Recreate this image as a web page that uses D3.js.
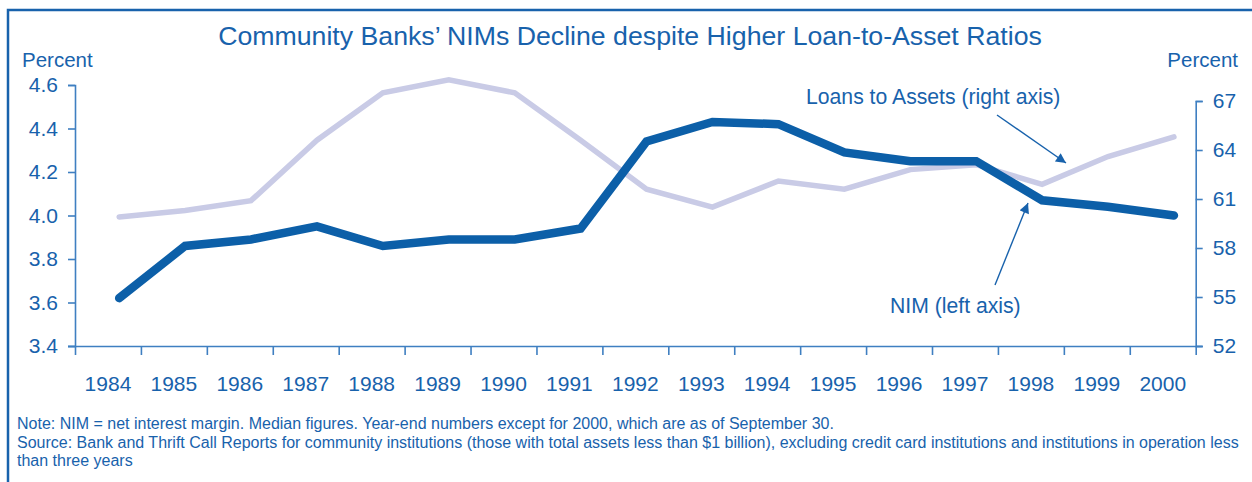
<!DOCTYPE html>
<html>
<head>
<meta charset="utf-8">
<script src="https://cdn.jsdelivr.net/npm/d3@7"></script>
<style>
  body { margin: 0; background: #fff; }
  svg text { font-family: "Liberation Sans", Arial, Helvetica, sans-serif; fill: #1862ac; }
</style>
</head>
<body>
<svg width="1252" height="482"></svg>
<script>
// data
const years = [1984, 1985, 1986, 1987, 1988, 1989, 1990, 1991, 1992, 1993, 1994, 1995, 1996, 1997, 1998, 1999, 2000];
const nim = [3.62, 3.86, 3.89, 3.95, 3.86, 3.89, 3.89, 3.94, 4.34, 4.43, 4.42, 4.29, 4.25, 4.25, 4.07, 4.04, 4.00];
const loans = [59.9, 60.3, 60.9, 64.6, 67.5, 68.3, 67.5, 64.6, 61.6, 60.5, 62.1, 61.6, 62.8, 63.1, 61.9, 63.6, 64.8];
const leftTicks = [3.4, 3.6, 3.8, 4.0, 4.2, 4.4, 4.6];
const rightTicks = [52, 55, 58, 61, 64, 67];

const blue = "#1862ac";
const axisBlue = "#3f7fc1";

const svg = d3.select("svg");

// frame
svg.append("path")
    .attr("d", "M8,490V10H1260")
    .attr("fill", "none")
    .attr("stroke", blue)
    .attr("stroke-width", 2.5);

const x0 = 75, x1 = 1195.7, yBottom = 346;

const x = d3.scaleLinear().domain([1984, 2001]).range([x0, x1]);
const yL = d3.scaleLinear().domain([3.4, 4.6]).range([yBottom, 85]);
const yR = d3.scaleLinear().domain([52, 67]).range([yBottom, 101]);

// title
svg.append("text")
    .attr("x", 630).attr("y", 45)
    .attr("text-anchor", "middle")
    .attr("font-size", 26.7)
    .text("Community Banks\u2019 NIMs Decline despite Higher Loan-to-Asset Ratios");

svg.append("text").attr("x", 22).attr("y", 67).attr("font-size", 20.5).text("Percent");
svg.append("text").attr("x", 1238).attr("y", 67).attr("font-size", 20.5)
    .attr("text-anchor", "end").text("Percent");

// left axis
const gL = svg.append("g").attr("transform", `translate(${x0},0)`)
    .call(d3.axisLeft(yL).tickValues(leftTicks).tickFormat(d3.format(".1f")).tickSize(7).tickPadding(10));
// right axis
const gR = svg.append("g").attr("transform", `translate(${x1},0)`)
    .call(d3.axisRight(yR).tickValues(rightTicks).tickSize(7).tickPadding(10));
// x axis
const gX = svg.append("g").attr("transform", `translate(0,${yBottom})`)
    .call(d3.axisBottom(x).tickValues(d3.range(1984, 2002)).tickFormat("").tickSize(9).tickSizeOuter(0));
gX.select(".domain").attr("d", `M${x0 - 7},0.5H${x1 + 7}`);

[gL, gR, gX].forEach(g => {
  g.selectAll(".domain, line").attr("stroke", axisBlue).attr("stroke-width", 1.6);
  g.selectAll("text").attr("font-size", 21).attr("font-family", null).attr("fill", blue);
});

// year labels centred in each band
svg.append("g").selectAll("text")
  .data(years)
  .join("text")
    .attr("x", d => x(d + 0.5))
    .attr("y", 391)
    .attr("text-anchor", "middle")
    .attr("font-size", 21)
    .text(d => d);

// lines (points sit two thirds into each year's band)
const pos = d => x(d + 0.67);

svg.append("path")
    .datum(years.map((yr, i) => [yr, loans[i]]))
    .attr("fill", "none")
    .attr("stroke", "#c9cbe6")
    .attr("stroke-width", 5.5)
    .attr("stroke-linecap", "round")
    .attr("d", d3.line().x(d => pos(d[0])).y(d => yR(d[1])));

svg.append("path")
    .datum(years.map((yr, i) => [yr, nim[i]]))
    .attr("fill", "none")
    .attr("stroke", "#0c5fa8")
    .attr("stroke-width", 8.5)
    .attr("stroke-linecap", "round")
    .attr("d", d3.line().x(d => pos(d[0])).y(d => yL(d[1])));

// annotations
svg.append("defs").append("marker")
    .attr("id", "arrow")
    .attr("viewBox", "0 0 10 10")
    .attr("refX", 10).attr("refY", 5)
    .attr("markerWidth", 12).attr("markerHeight", 10)
    .attr("markerUnits", "userSpaceOnUse")
    .attr("orient", "auto")
  .append("path")
    .attr("d", "M0,0L10,5L0,10z")
    .attr("fill", blue);

svg.append("text").attr("x", 806).attr("y", 104).attr("font-size", 21.2)
    .text("Loans to Assets (right axis)");
svg.append("text").attr("x", 890).attr("y", 313).attr("font-size", 21.2)
    .text("NIM (left axis)");

svg.append("line")
    .attr("x1", 997).attr("y1", 115).attr("x2", 1066).attr("y2", 163)
    .attr("stroke", blue).attr("stroke-width", 1.4)
    .attr("marker-end", "url(#arrow)");
svg.append("line")
    .attr("x1", 995).attr("y1", 285).attr("x2", 1028).attr("y2", 203)
    .attr("stroke", blue).attr("stroke-width", 1.4)
    .attr("marker-end", "url(#arrow)");

// footnote
const notes = [
  "Note: NIM = net interest margin. Median figures. Year-end numbers except for 2000, which are as of September 30.",
  "Source: Bank and Thrift Call Reports for community institutions (those with total assets less than $1 billion), excluding credit card institutions and institutions in operation less",
  "than three years"
];
svg.append("g").selectAll("text")
  .data(notes)
  .join("text")
    .attr("x", 17)
    .attr("y", (d, i) => 429 + i * 18.5)
    .attr("font-size", 16)
    .text(d => d);
</script>
</body>
</html>
